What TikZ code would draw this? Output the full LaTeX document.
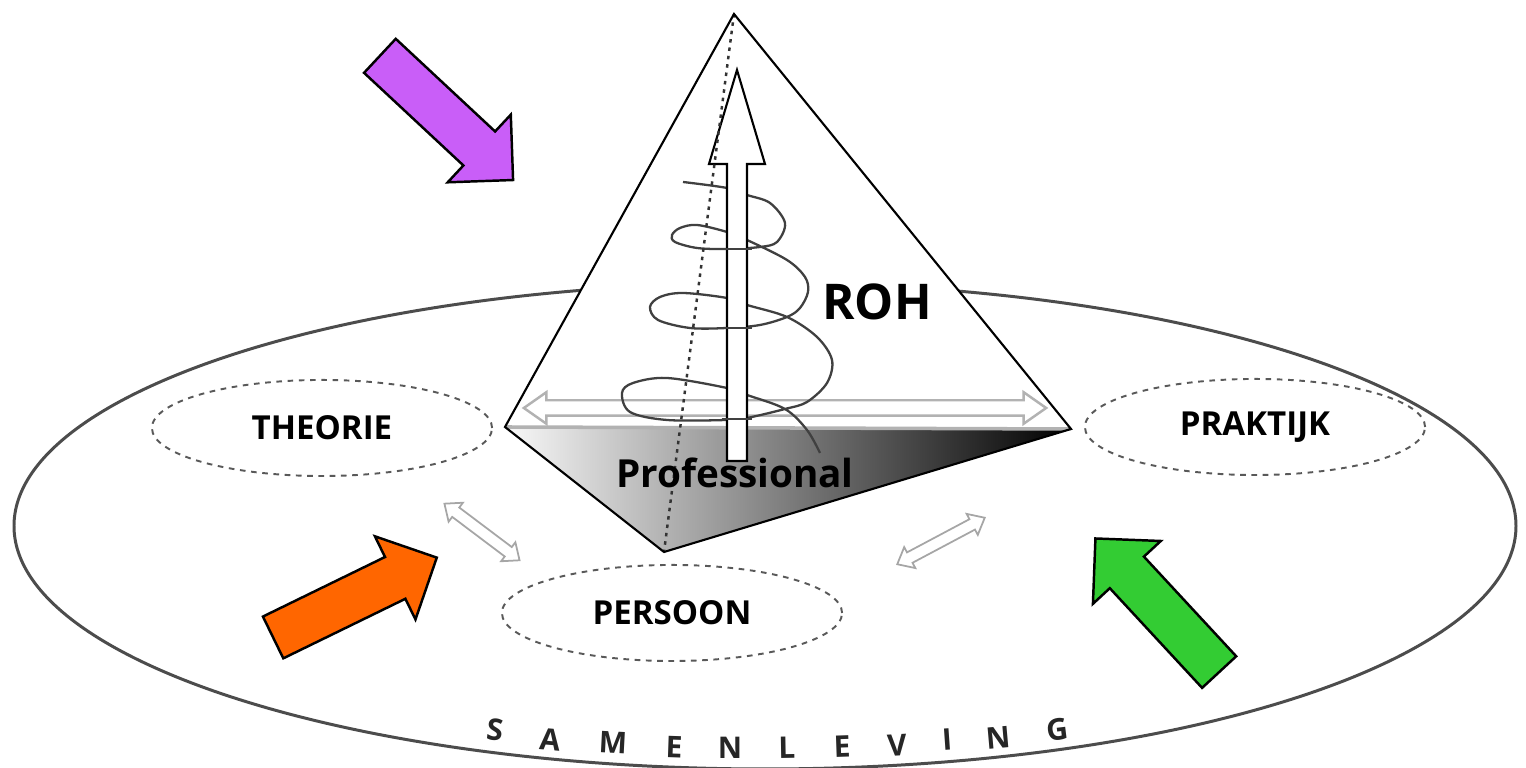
\documentclass[tikz,border=0pt]{standalone}
\usepackage{fontspec}
\setmainfont{Open Sans}
\usepackage{tikz}
\usetikzlibrary{shapes.geometric,shapes.arrows}

\begin{document}
\begin{tikzpicture}[x=0.01cm,y=-0.01cm,
   rand/.style={draw=black,line width=0.6pt},
   spiraal/.style={draw=black!75,line width=0.65pt},
   gebied/.style={ellipse,draw=black!65,line width=0.55pt,dash pattern=on 1.6pt off 1.6pt,
     minimum width=3.4cm,minimum height=0.96cm,inner sep=0pt,font=\fontsize{9.4}{9.4}\selectfont\bfseries},
   kracht/.style={single arrow,draw=black,line width=0.7pt,inner xsep=0pt,inner ysep=0.22cm,
     minimum height=1.82cm,minimum width=0.9cm,single arrow head extend=0.23cm,
     single arrow tip angle=90,anchor=tail},
   wissel/.style={double arrow,draw=gray!70,fill=white,line width=0.5pt,inner xsep=0pt,
     inner ysep=0.05cm,double arrow head extend=0.06cm,double arrow tip angle=80},
   letter/.style={font=\fontsize{8.5}{8.5}\selectfont\bfseries,text=black!85,inner sep=0pt}]

  \useasboundingbox (0,0) rectangle (1526,768);

  % samenleving
  \draw[draw=black!70,line width=0.85pt] (765,526) ellipse [x radius=751,y radius=243];

  \node[gebied](theorie) at (322,428) {THEORIE};
  \node[gebied](praktijk) at (1255,427) {PRAKTIJK};
  \node[gebied](persoon) at (672,613) {PERSOON};

  \node[wissel,minimum height=0.94cm,rotate=-37](tp) at (482,532) {};
  \node[wissel,minimum height=0.99cm,rotate=28](pp) at (941,541) {};

  \node[kracht,fill={rgb,255:red,201;green,94;blue,248},rotate=-43](paars) at (379,55) {};
  \node[kracht,fill={rgb,255:red,255;green,102;blue,0},rotate=26](oranje) at (272,638) {};
  \node[kracht,fill={rgb,255:red,51;green,204;blue,51},rotate=132.8](groen) at (1220,673) {};

  % piramide
  \coordinate (top) at (734,14);
  \coordinate (links) at (505,427);
  \coordinate (rechts) at (1071,429);
  \coordinate (voor) at (664,552);

  \fill[white] (top) -- (links) -- (rechts) -- cycle;
  \shade[left color=gray!5,middle color=gray!55,right color=black] (links) -- (rechts) -- (voor) -- cycle;
  \draw[gray!60,line width=1pt] (links) -- (rechts);

  \node[wissel,draw=gray!60,line width=0.7pt,inner ysep=0.065cm,double arrow head extend=0.08cm,
    double arrow tip angle=70,minimum height=5.22cm](basis) at (785,408) {};

  % spiraal
  \draw[spiraal] plot[smooth,tension=0.55] coordinates {
    (683,182) (727,188) (747,195) (770,203) (785,223) (777,242) (760,247) (727,249)
    (697,248) (675,242) (672,235) (680,228) (697,225) (727,232) (747,240) (787,260)
    (805,277) (808,292) (800,308) (787,317) (760,325) (727,328) (690,328) (658,320)
    (650,307) (660,297) (683,293) (727,298) (747,305) (787,317) (817,337) (832,360)
    (827,383) (807,402) (785,409) (747,418) (727,420) (667,420) (630,412) (622,393)
    (633,383) (667,378) (727,388) (747,395) (785,409) (807,430) (820,453)};

  \draw[fill=white,line width=0.6pt] (727,461) -- (727,164) -- (709,164) -- (737,70)
    -- (765,164) -- (747,164) -- (747,461) -- cycle;

  % voorkant van de spiraal over de pijl
  \foreach \yy in {249,328,419}
    \draw[spiraal] (722,\yy) -- (752,\yy);

  \draw[black!80,line width=0.7pt,dash pattern=on 1pt off 1.4pt] (top) -- (voor);

  \draw[rand] (links) -- (top) -- (rechts) -- (voor) -- cycle;

  \node[font=\fontsize{14}{14}\selectfont\bfseries](roh) at (877,302) {ROH};
  \node[font=\fontsize{11}{11}\selectfont\bfseries,inner sep=0pt](prof) at (735,473) {Professional};

  \foreach \ch/\x/\y/\r [count=\i] in {S/495/730/-6,A/550/740/-5,M/613/743/-3,E/674/747/-2,
      N/730/748/0,L/787/748/1,E/842/747/2,V/897/745/3,I/947/740/4,N/998/738/5,G/1057/730/7}
    \node[letter,rotate=\r](sam\i) at (\x,\y) {\ch};
\end{tikzpicture}
\end{document}
